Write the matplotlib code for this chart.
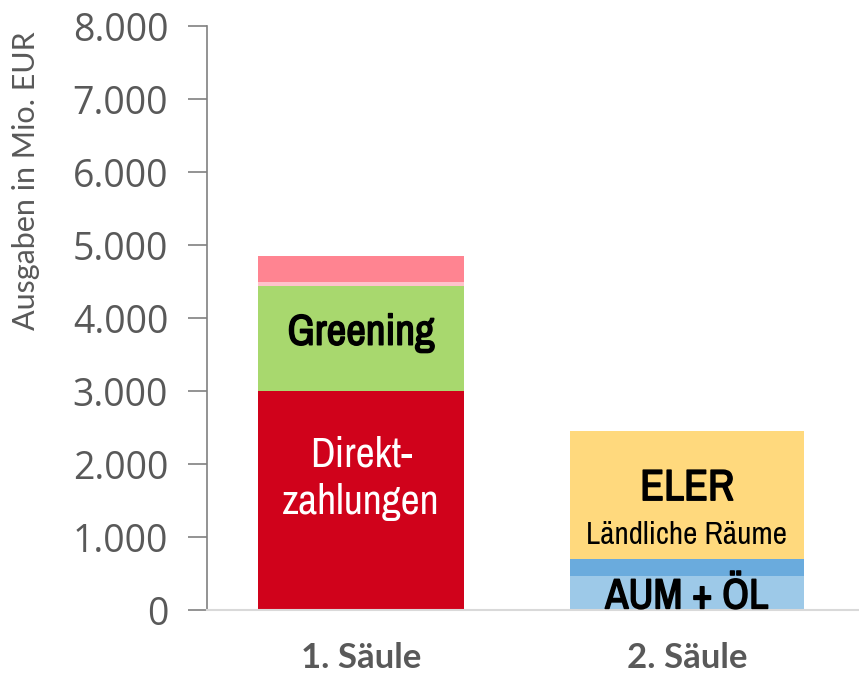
import matplotlib
matplotlib.use("Agg")
import matplotlib.pyplot as plt
import matplotlib.patheffects as pe
from matplotlib import font_manager
from matplotlib.ticker import FuncFormatter

# data (Mio. EUR)
kategorien = ["1. Säule", "2. Säule"]
saeule1_werte = [3000, 1440, 50, 360]          # Direktzahlungen, Greening, schmal, oben
saeule1_farben = ["#D0021B", "#A8D86E", "#FFC2CB", "#FF8491"]
saeule2_werte = [470, 230, 1750]               # AUM + ÖL, mittelblau, ELER
saeule2_farben = ["#9DC9E8", "#6AABDD", "#FFD97D"]
y_ticks = [0, 1000, 2000, 3000, 4000, 5000, 6000, 7000, 8000]

# look for a condensed family, else Liberation Sans
names = sorted(set(f.name for f in font_manager.fontManager.ttflist))
cond = [n for n in names if "Narrow" in n or "Condensed" in n]
narrow = [cond[0] if cond else "Liberation Sans", "DejaVu Sans"]
# fake bold via outline (condensed face has no bold weight here)
fett = [pe.withStroke(linewidth=1.1, foreground="black")]

fig = plt.figure(figsize=(8.59, 6.73), dpi=100)
ax = fig.add_axes([0.241, 0.0936, 0.759, 0.8674])

# bar 1
bottom = 0
for v, c in zip(saeule1_werte, saeule1_farben):
    ax.bar(0, v, width=0.632, bottom=bottom, color=c, linewidth=0)
    bottom += v
# bar 2
bottom = 0
for v, c in zip(saeule2_werte, saeule2_farben):
    ax.bar(1, v, width=0.718, bottom=bottom, color=c, linewidth=0)
    bottom += v

ax.set_xlim(-0.472, 1.528)
ax.set_ylim(0, 8000)

# labels inside bars
ax.text(0, 3800, "Greening", ha="center", va="center", fontsize=31,
        family=narrow, color="black", path_effects=fett)
ax.text(0, 1810, "Direkt-\nzahlungen", ha="center", va="center", fontsize=30,
        family=narrow, color="white", linespacing=1.3)
ax.text(1, 1670, "ELER", ha="center", va="center", fontsize=31.5,
        family=narrow, color="black", path_effects=fett)
ax.text(1, 1030, "Ländliche Räume", ha="center", va="center", fontsize=22.5,
        family=narrow, color="black")
ax.text(1, 190, "AUM + ÖL", ha="center", va="center", fontsize=30.5,
        family=narrow, color="black", path_effects=fett)

# axes styling
for s in ["top", "right"]:
    ax.spines[s].set_visible(False)
ax.spines["left"].set_color("#808080")
ax.spines["left"].set_linewidth(1.2)
ax.spines["bottom"].set_color("#D9D9D9")
ax.spines["bottom"].set_linewidth(1.5)

ax.set_yticks(y_ticks)
ax.yaxis.set_major_formatter(FuncFormatter(lambda v, p: "{:,.0f}".format(v).replace(",", ".")))
ax.tick_params(axis="y", length=14, width=1.2, color="#808080", labelsize=27,
               labelcolor="#595959", pad=14)
for lab in ax.get_yticklabels():
    lab.set_family("Open Sans")

ax.set_xticks([0, 1])
ax.set_xticklabels(kategorien)
ax.tick_params(axis="x", length=0, labelsize=25, labelcolor="#595959", pad=23)
for lab in ax.get_xticklabels():
    lab.set_family("Lato")
    lab.set_fontweight("bold")

ax.set_ylabel("Ausgaben in Mio. EUR", fontsize=22, color="#595959",
              family=["Lato", "DejaVu Sans"])
ax.yaxis.set_label_coords(-0.256, 0.735)

fig.savefig("out.png", dpi=100)
